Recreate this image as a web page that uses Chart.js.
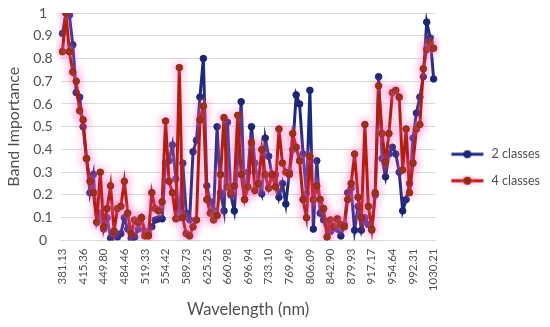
<!DOCTYPE html>
<html><head><meta charset="utf-8">
<script src="https://cdn.jsdelivr.net/npm/chart.js@4/dist/chart.umd.min.js"></script>
<style>html,body{margin:0;padding:0;background:#fff;}#wrap{width:550px;height:327px;}</style>
</head><body><div id="wrap"><canvas id="c" width="550" height="327"></canvas></div>
<script>
const tickLabels = ['381.13','415.36','449.80','484.46','519.33','554.42','589.73','625.25','660.98','696.94','733.10','769.49','806.09','842.90','879.93','917.17','954.64','992.31','1030.21'];
const bandsPerLabel = 6;
const twoClasses = [0.91,1.00,0.99,0.86,0.65,0.63,0.50,0.36,0.21,0.29,
0.08,0.12,0.05,0.10,0.01,0.04,0.015,0.03,0.10,0.05,
0.01,0.015,0.05,0.10,0.04,0.03,0.06,0.09,0.095,0.095,
0.34,0.35,0.42,0.27,0.10,0.34,0.12,0.09,0.39,0.44,
0.63,0.80,0.24,0.17,0.13,0.50,0.21,0.13,0.52,0.20,
0.13,0.35,0.61,0.18,0.30,0.50,0.34,0.25,0.205,0.45,
0.37,0.28,0.29,0.19,0.25,0.16,0.30,0.40,0.64,0.60,
0.38,0.205,0.66,0.05,0.35,0.12,0.09,0.07,0.04,0.06,
0.05,0.02,0.07,0.21,0.23,0.045,0.15,0.045,0.10,0.07,
0.045,0.20,0.72,0.36,0.28,0.38,0.41,0.38,0.30,0.13,
0.18,0.25,0.45,0.56,0.63,0.72,0.96,0.89,0.71];
const fourClasses = [0.83,1.00,0.83,0.74,0.70,0.57,0.53,0.36,0.26,0.21,
0.08,0.30,0.06,0.14,0.24,0.04,0.14,0.15,0.26,0.12,
0.03,0.09,0.08,0.10,0.02,0.02,0.21,0.14,0.13,0.17,
0.525,0.26,0.21,0.095,0.76,0.10,0.03,0.02,0.06,0.09,
0.53,0.59,0.18,0.12,0.09,0.11,0.29,0.54,0.235,0.21,
0.24,0.55,0.29,0.18,0.235,0.43,0.22,0.25,0.40,0.29,
0.23,0.29,0.235,0.49,0.34,0.30,0.29,0.47,0.41,0.35,
0.18,0.10,0.37,0.18,0.24,0.18,0.14,0.015,0.09,0.06,
0.095,0.07,0.06,0.18,0.25,0.38,0.19,0.10,0.51,0.15,
0.05,0.21,0.68,0.47,0.345,0.47,0.65,0.66,0.63,0.31,
0.49,0.21,0.34,0.49,0.51,0.755,0.84,0.87,0.845];
const seriesNames = ['2 classes','4 classes'];

const categories = twoClasses.map((_, i) => (i % bandsPerLabel === 0 ? tickLabels[i / bandsPerLabel] : ''));

const BLUE_LINE = '#1E2A7C', BLUE_PT = '#1A2672';
const RED_LINE = '#B21E0E', RED_PT = '#922A0E';

function legendIcon(lineColor, ptColor, glow) {
  const cv = document.createElement('canvas');
  cv.width = 36; cv.height = 12;
  const g = cv.getContext('2d');
  if (glow) { g.shadowColor = 'rgba(255,120,210,0.8)'; g.shadowBlur = 4; }
  g.strokeStyle = lineColor; g.lineWidth = 3;
  g.beginPath(); g.moveTo(2, 6); g.lineTo(34, 6); g.stroke();
  g.fillStyle = ptColor; g.beginPath(); g.arc(18, 6, 4, 0, Math.PI * 2); g.fill();
  return cv;
}

const glowPlugin = {
  id: 'glow',
  beforeDatasetDraw(chart, args) {
    if (chart.data.datasets[args.index].glow) {
      chart.ctx.save();
      chart.ctx.shadowColor = 'rgba(255,110,205,0.85)';
      chart.ctx.shadowBlur = 8;
    }
  },
  afterDatasetDraw(chart, args) {
    if (chart.data.datasets[args.index].glow) chart.ctx.restore();
  }
};

const legendShift = {
  id: 'legendShift',
  afterUpdate(chart) {
    const l = chart.legend;
    if (!l) return;
    const dx = 0, dy = 1;
    l.left += dx; l.right += dx; l.top += dy; l.bottom += dy;
    if (l.legendHitBoxes) l.legendHitBoxes.forEach(b => { b.left += dx; b.top += dy; });
  }
};

const FONT = 'Lato';
const TXT = '#505050';

new Chart(document.getElementById('c'), {
  type: 'line',
  data: {
    labels: categories,
    datasets: [
      { label: seriesNames[1], data: fourClasses, borderColor: RED_LINE, backgroundColor: RED_PT,
        pointBackgroundColor: RED_PT, pointBorderColor: RED_PT, borderWidth: 3, pointRadius: 3.3,
        pointBorderWidth: 1, tension: 0, glow: true, legendIcon: legendIcon(RED_LINE, RED_PT, true) },
      { label: seriesNames[0], data: twoClasses, borderColor: BLUE_LINE, backgroundColor: BLUE_PT,
        pointBackgroundColor: BLUE_PT, pointBorderColor: BLUE_PT, borderWidth: 3, pointRadius: 3.3,
        pointBorderWidth: 1, tension: 0, legendIcon: legendIcon(BLUE_LINE, BLUE_PT, false) }
    ]
  },
  options: {
    responsive: false,
    animation: false,
    devicePixelRatio: 1,
    layout: { padding: { left: 4, right: 0, top: 13, bottom: 7 } },
    plugins: {
      tooltip: { enabled: false },
      legend: {
        position: 'right',
        reverse: true,
        labels: {
          usePointStyle: true,
          pointStyleWidth: 36,
          boxHeight: 12,
          padding: 14,
          color: TXT,
          font: { family: FONT, size: 12.5 },
          generateLabels(chart) {
            const items = Chart.defaults.plugins.legend.labels.generateLabels(chart);
            items.forEach(it => { it.pointStyle = chart.data.datasets[it.datasetIndex].legendIcon; });
            return items;
          }
        }
      }
    },
    scales: {
      x: {
        offset: true,
        grid: { display: false, drawTicks: false },
        border: { display: true, color: '#D9D9D9' },
        ticks: {
          autoSkip: false, minRotation: 90, maxRotation: 90, padding: 8,
          color: TXT, font: { family: FONT, size: 11.5 },
          callback(v, i) { return categories[i]; }
        },
        title: { display: true, text: 'Wavelength (nm)', color: TXT, font: { family: FONT, size: 16.5 }, padding: { top: 1, bottom: 0 } }
      },
      y: {
        min: 0, max: 1,
        afterFit(s) { s.paddingTop = 0; },
        grid: { color: '#D9D9D9', lineWidth: 1, drawTicks: false },
        border: { display: false },
        ticks: {
          stepSize: 0.1, padding: 8, crossAlign: 'center',
          color: TXT, font: { family: FONT, size: 14 },
          callback(v) { return String(Number(v.toFixed(1))); }
        },
        title: { display: true, text: 'Band Importance', color: TXT, font: { family: FONT, size: 16 }, padding: { top: 0, bottom: 2 } }
      }
    }
  },
  plugins: [glowPlugin, legendShift]
});
</script>
</body></html>
